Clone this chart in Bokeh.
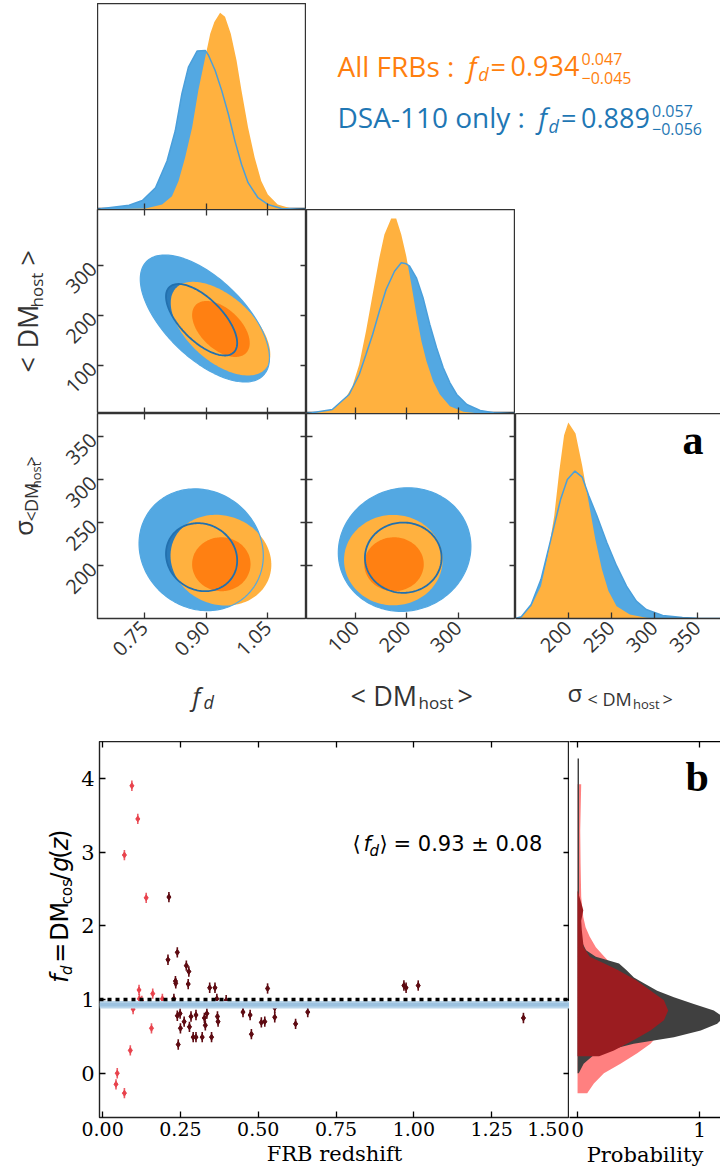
import math
import numpy as np
from bokeh.plotting import figure
from bokeh.layouts import row, column
from bokeh.models import (Range1d, LinearAxis, FixedTicker, Label, Spacer, Span,
                          BoxAnnotation, NumeralTickFormatter)
from bokeh.embed import file_html
from bokeh.resources import INLINE

# ------------------------------------------------------------------ data
FD_RANGE = (0.636, 1.144)
DM_RANGE = (4.0, 412.0)
SIG_RANGE = (139.0, 377.0)
FD_TICKS = [0.75, 0.90, 1.05]
DM_TICKS = [100, 200, 300]
SIG_TICKS = [200, 250, 300, 350]

# 1D marginal of f_d (density, arbitrary units)
FD_BLUE_X = [0.636, 0.6485, 0.7127, 0.745, 0.777, 0.805, 0.825, 0.841, 0.857, 0.878, 0.898, 0.906,
             0.922, 0.938, 0.954, 0.970, 0.986, 1.002, 1.026, 1.050, 1.083, 1.144]
FD_BLUE_Y = [0, 1, 4.3, 9, 21.7, 48.3, 78.3, 115, 141.7, 157.7, 158.3, 153.3,
             138.3, 118.3, 95, 68.3, 45, 26.7, 11.7, 5, 1, 0]
FD_ORNG_X = [0.636, 0.753, 0.793, 0.817, 0.833, 0.849, 0.866, 0.881, 0.898, 0.910, 0.920, 0.934, 0.946,
             0.960, 0.974, 0.986, 1.002, 1.018, 1.034, 1.050, 1.074, 1.107, 1.131, 1.144]
FD_ORNG_Y = [0, 1, 5, 13.3, 28.3, 51.7, 81.7, 118.3, 151.7, 175, 186.7, 195.7, 191.7,
             175, 148.3, 118.3, 81.7, 51.7, 28.3, 15, 5, 1, 0, 0]

# 1D marginal of <DM_host>
DM_BLUE_X = [4, 14.9, 54.3, 87.2, 106.9, 120.1, 133.1, 146.2, 159.4, 175.8, 189, 198.8, 205.3, 218.5,
             231.5, 244.7, 257.9, 270.9, 284, 297.3, 317, 343.1, 369.3, 402.2, 412]
DM_BLUE_Y = [0, 0.7, 4, 19, 39, 59, 79, 102.3, 124, 142.3, 150.7, 149.7, 147.3, 135.7,
             115.7, 89, 65.7, 45.7, 30.7, 19, 9, 3, 0.7, 0, 0]
DM_ORNG_X = [4, 14.9, 54.3, 80.7, 93.7, 106.9, 120.1, 133.1, 146.2, 156.1, 169.3, 179.1, 189, 198.8,
             208.7, 218.5, 228.4, 238.2, 251.2, 264.4, 284, 310.3, 336.6, 412]
DM_ORNG_Y = [0, 0.7, 4, 15.7, 27.3, 49, 82.3, 119, 155.7, 179, 195, 195, 179, 157.3,
             129, 99, 72.3, 52.3, 32.3, 19, 7.3, 1.7, 0.3, 0]

# 1D marginal of sigma_<DM_host>
SIG_BLUE_X = [139, 145.7, 157.2, 168.6, 180.1, 191.5, 199.2, 208, 216.4, 224, 233.5, 245, 256.4,
              267.9, 279.3, 290.8, 309.9, 332.8, 350, 377]
SIG_BLUE_Y = [0, 1.7, 14, 39, 79, 119, 138.3, 146.7, 140.7, 122.3, 102.3, 75.7, 52.3,
              32.3, 17.3, 9, 3, 1, 0.3, 0]
SIG_ORNG_X = [139, 145.7, 157.2, 168.6, 176.3, 184, 189.7, 195.4, 200.3, 208.7, 216.4, 224, 231.6,
              239.3, 246.9, 256.4, 271.7, 290.8, 302.2, 377]
SIG_ORNG_Y = [0, 1.7, 12.3, 32.3, 62.3, 102.3, 145.7, 182.3, 195, 184, 152.3, 115.7, 79,
              49, 27.3, 12.3, 4, 0.7, 0, 0]

# 2D credible contours: [centre x, centre y, half-extent x, half-extent y, correlation]
FD_DM_BLUE_OUT = [0.897, 194.0, 0.157, 127.0, -0.62]
FD_DM_BLUE_IN = [0.889, 191.5, 0.0865, 71.5, -0.65]
FD_DM_ORNG_OUT = [0.935, 173.7, 0.121, 93.7, -0.55]
FD_DM_ORNG_IN = [0.936, 173.0, 0.070, 56.0, -0.50]

FD_SIG_BLUE_OUT = [0.888, 218.8, 0.151, 70.7, -0.10]
FD_SIG_BLUE_IN = [0.889, 210.2, 0.0865, 39.5, -0.10]
FD_SIG_ORNG_OUT = [0.936, 206.7, 0.1225, 52.7, -0.10]
FD_SIG_ORNG_IN = [0.937, 202.0, 0.071, 31.3, 0.0]

DM_SIG_BLUE_OUT = [195.5, 219.0, 129.4, 71.7, 0.05]
DM_SIG_BLUE_IN = [192.9, 209.6, 74.8, 40.8, 0.0]
DM_SIG_ORNG_OUT = [173.5, 206.8, 96.2, 52.5, 0.0]
DM_SIG_ORNG_IN = [174.8, 202.0, 58.1, 31.3, 0.0]

# panel b: per-FRB f_d versus redshift
LOWZ_Z = [0.094, 0.113, 0.070, 0.140, 0.117, 0.118, 0.126, 0.161, 0.192, 0.098, 0.157, 0.089, 0.047, 0.043, 0.070]
LOWZ_F = [3.90, 3.45, 2.96, 2.38, 1.13, 1.01, 0.98, 1.08, 1.01, 0.87, 0.61, 0.31, 0.00, -0.15, -0.27]
MAIN_Z = [0.213, 0.210, 0.240, 0.234, 0.235, 0.229, 0.269, 0.277, 0.275, 0.240, 0.249, 0.262, 0.250, 0.243,
          0.279, 0.284, 0.300, 0.291, 0.300, 0.320, 0.327, 0.330, 0.335, 0.344, 0.350, 0.361, 0.367, 0.369,
          0.371, 0.397, 0.451, 0.474, 0.478, 0.510, 0.521, 0.530, 0.553, 0.553, 0.620, 0.659, 0.968, 0.975,
          1.014, 1.352]
MAIN_F = [2.39, 1.54, 1.64, 1.25, 1.22, 1.01, 1.46, 1.38, 1.21, 0.78, 0.81, 0.70, 0.61, 0.39,
          0.63, 0.77, 0.79, 0.49, 0.49, 0.49, 0.75, 0.65, 0.81, 1.16, 0.49, 1.16, 1.01, 0.77,
          0.70, 0.99, 0.83, 0.79, 0.53, 0.69, 0.70, 1.15, 0.89, 0.76, 0.67, 0.83, 1.19, 1.16,
          1.19, 0.75]
F_ERR = 0.07
Z_ERR = 0.006
MEAN_FD = 0.93
BAND_OUTER = 0.05
BAND_INNER = 0.025
REF_FD = 1.0

# side panel: probability distributions of f_d
SIDE_PINK_F = [-0.27, -0.14, 0.00, 0.13, 0.27, 0.40, 0.58, 0.76, 0.90, 1.03, 1.17, 1.30, 1.44, 1.58,
               1.71, 1.85, 1.98, 2.12, 2.39, 2.84, 3.29, 3.92]
SIDE_PINK_P = [0.079, 0.134, 0.216, 0.352, 0.489, 0.598, 0.694, 0.735, 0.721, 0.639, 0.516, 0.38, 0.30, 0.22,
               0.15, 0.10, 0.066, 0.047, 0.030, 0.025, 0.022, 0.03]
SIDE_GRAY_F = [0.0, 0.13, 0.27, 0.40, 0.49, 0.58, 0.67, 0.76, 0.85, 0.94, 1.03, 1.12, 1.22, 1.30, 1.40,
               1.49, 1.58, 1.67, 1.80, 2.0, 2.3, 4.27]
SIDE_GRAY_P = [0.01, 0.05, 0.15, 0.46, 0.79, 1.01, 1.145, 1.2, 1.117, 0.953, 0.79, 0.653, 0.544, 0.462, 0.40,
               0.34, 0.15, 0.07, 0.03, 0.02, 0.012, 0.012]
SIDE_DARK_F = [0.23, 0.31, 0.45, 0.58, 0.72, 0.85, 0.99, 1.12, 1.26, 1.40, 1.49, 1.58, 1.71, 1.94, 2.07,
               2.21, 2.34, 2.48]
SIDE_DARK_P = [0.177, 0.298, 0.462, 0.598, 0.708, 0.743, 0.708, 0.60, 0.48, 0.33, 0.22, 0.10, 0.05, 0.035,
               0.03, 0.047, 0.025, 0.0]

B_XRANGE = (-0.01, 1.50)
B_YRANGE = (-0.6, 4.5)
B_XTICKS = [0.0, 0.25, 0.5, 0.75, 1.0, 1.25, 1.5]
B_YTICKS = [0, 1, 2, 3, 4]
S_XRANGE = (-0.066, 1.172)
S_XTICKS = [0, 1]

# ------------------------------------------------------------------ style
BLUE_L = "#53A8E2"
BLUE_D = "#2A7BBA"
BLUE_LINE = "#2270AE"
BLUE_HIST_LINE = "#4A9FDB"
ORNG_L = "#FFB13F"
ORNG_D = "#FF8012"
FRAME = "#333333"
TXT = "#333333"
SANS = "Open Sans"
SERIF = "DejaVu Serif"
DJ = "DejaVu Sans"
MID = 0.36  # distance (in em) from the alphabetic baseline to the text middle


def ell(par, n=160):
    cx, cy, sx, sy, rho = par
    t = np.linspace(0, 2 * np.pi, n)
    x = cx + sx * np.cos(t)
    y = cy + sy * (rho * np.cos(t) + math.sqrt(1 - rho ** 2) * np.sin(t))
    return x, y


def base(w, h, xr, yr, left=0, right=0, top=0, bottom=0, outline=True):
    p = figure(width=w, height=h, x_range=Range1d(*xr), y_range=Range1d(*yr),
               output_backend="svg", toolbar_location=None,
               x_axis_location=None, y_axis_location=None,
               min_border_left=left, min_border_right=right,
               min_border_top=top, min_border_bottom=bottom)
    p.grid.visible = False
    p.outline_line_color = FRAME if outline else None
    p.outline_line_width = 1.4
    p.background_fill_color = "white"
    p.border_fill_color = "white"
    return p


def axis(p, side, ticks, labels=False, font=SANS, size="20px", color=TXT, orient=None,
         fmt=None, tin=6, tout=0, line=False, label=None, label_size="22px", standoff=6,
         label_standoff=4):
    ax = LinearAxis(ticker=FixedTicker(ticks=list(ticks)))
    ax.minor_tick_line_color = None
    ax.major_tick_in = tin
    ax.major_tick_out = tout
    ax.major_tick_line_color = color
    ax.major_tick_line_width = 1.3
    ax.axis_line_color = color if line else None
    ax.axis_line_width = 1.4
    if labels:
        ax.major_label_text_font = font
        ax.major_label_text_font_size = size
        ax.major_label_text_color = color
        ax.major_label_standoff = standoff
        if orient is not None:
            ax.major_label_orientation = orient
        if fmt:
            ax.formatter = NumeralTickFormatter(format=fmt)
    else:
        ax.major_label_text_font_size = "0px"
        ax.major_label_text_color = None
        ax.major_label_standoff = 0
    if label:
        ax.axis_label = label
        ax.axis_label_text_font = font
        ax.axis_label_text_font_size = label_size
        ax.axis_label_text_font_style = "normal"
        ax.axis_label_text_color = color
        ax.axis_label_standoff = label_standoff
    p.add_layout(ax, side)
    return ax


def text_fig(w, h):
    p = figure(width=w, height=h, x_range=Range1d(0, w), y_range=Range1d(h, 0),
               output_backend="svg", toolbar_location=None,
               x_axis_location=None, y_axis_location=None, min_border=0)
    p.outline_line_color = None
    p.grid.visible = False
    p.background_fill_color = "white"
    p.border_fill_color = "white"
    return p


def put(p, x, y, s, size, color=TXT, font=SANS, style="normal", angle=0.0):
    """(x, y) = start of the text on its alphabetic baseline, in pixel space of a text figure."""
    if angle == 0:
        y = y - MID * size
    else:
        x = x - MID * size
    p.add_layout(Label(x=x, y=y, text=s, text_font=font, text_font_size=f"{size}px",
                       text_color=color, text_font_style=style, angle=angle,
                       text_align="left", text_baseline="middle"))


def dlabel(p, x, y, s, size, font, color="black", style="normal", dx=0, dy=0):
    """Text on a data anchor; dx/dy in screen pixels, baseline at the anchor."""
    p.add_layout(Label(x=x, y=y, x_offset=dx, y_offset=dy + MID * size, text=s, text_font=font,
                       text_font_size=f"{size}px", text_color=color, text_font_style=style,
                       text_align="left", text_baseline="middle"))


def contours(p, bo, bi, oo, oi):
    x, y = ell(bo); p.patch(x, y, fill_color=BLUE_L, line_color=None)
    x, y = ell(bi); p.patch(x, y, fill_color=BLUE_D, line_color=None)
    x, y = ell(oo); p.patch(x, y, fill_color=ORNG_L, line_color=None)
    x, y = ell(oi); p.patch(x, y, fill_color=ORNG_D, line_color=None)
    x, y = ell(bi); p.line(x, y, line_color=BLUE_LINE, line_width=1.8)
    x, y = ell(bo); p.line(x, y, line_color=BLUE_L, line_width=1.2)


def marginal(p, bx, by, ox, oy):
    p.varea(x=bx, y1=0, y2=by, fill_color=BLUE_L)
    p.varea(x=ox, y1=0, y2=oy, fill_color=ORNG_L)
    p.line(bx, by, line_color=BLUE_HIST_LINE, line_width=1.5)


ROT = math.pi / 4
A90 = math.pi / 2

# ------------------------------------------------------------------ row 1  (y 3..209)
f11 = base(209, 206, FD_RANGE, (0, 205))
marginal(f11, FD_BLUE_X, FD_BLUE_Y, FD_ORNG_X, FD_ORNG_Y)
axis(f11, "below", FD_TICKS)

tf_top = text_fig(414, 206)
OR_T = "#FF7F0E"
BL_T = "#1F77B4"
put(tf_top, 31, 72.5, "All FRBs :", 28, OR_T)
put(tf_top, 161.6, 72.5, "f", 27, OR_T, style="italic")
put(tf_top, 171.7, 77, "d", 18, OR_T, style="italic")
put(tf_top, 184, 72.5, "=", 27, OR_T)
put(tf_top, 204, 72.5, "0.934", 27, OR_T)
put(tf_top, 275, 61.5, "0.047", 16, OR_T)
put(tf_top, 275, 80, "\u22120.045", 16, OR_T)
put(tf_top, 31, 124, "DSA-110 only :", 28, BL_T)
put(tf_top, 232, 124, "f", 27, BL_T, style="italic")
put(tf_top, 242, 128.5, "d", 18, BL_T, style="italic")
put(tf_top, 254.5, 124, "=", 27, BL_T)
put(tf_top, 274.5, 124, "0.889", 27, BL_T)
put(tf_top, 345.5, 113, "0.057", 16, BL_T)
put(tf_top, 345.5, 131.5, "\u22120.056", 16, BL_T)

row1 = row(Spacer(width=97, height=206), f11, tf_top, spacing=0)

# ------------------------------------------------------------------ row 2  (y 209..413)
LW = 49
tf_l2 = text_fig(LW, 204)
put(tf_l2, 37, 163, "<", 27, angle=A90)
put(tf_l2, 37, 139, "DM", 27, angle=A90)
put(tf_l2, 42, 98, "host", 17, angle=A90)
put(tf_l2, 37, 56, ">", 27, angle=A90)

f21 = base(97 - LW + 209, 204, FD_RANGE, DM_RANGE, left=97 - LW)
contours(f21, FD_DM_BLUE_OUT, FD_DM_BLUE_IN, FD_DM_ORNG_OUT, FD_DM_ORNG_IN)
axis(f21, "left", DM_TICKS, labels=True, orient=ROT, standoff=4)
axis(f21, "right", DM_TICKS)
axis(f21, "above", FD_TICKS)
axis(f21, "below", FD_TICKS)

f22 = base(209, 204, DM_RANGE, (0, 204))
marginal(f22, DM_BLUE_X, DM_BLUE_Y, DM_ORNG_X, DM_ORNG_Y)
axis(f22, "below", DM_TICKS)

row2 = row(tf_l2, f21, f22, Spacer(width=205, height=204), spacing=0)

# ------------------------------------------------------------------ row 3  (y 413..618 + labels)
tf_l3 = text_fig(LW, 263)
put(tf_l3, 31.7, 157, "\u03c3", 26, angle=A90)
put(tf_l3, 36.7, 138.7, "<", 18, angle=A90)
put(tf_l3, 36.7, 126.5, "DM", 18, angle=A90)
put(tf_l3, 40, 96, "host", 13, angle=A90)
put(tf_l3, 36.7, 68, ">", 18, angle=A90)

f31 = base(97 - LW + 209, 263, FD_RANGE, SIG_RANGE, left=97 - LW, bottom=58)
contours(f31, FD_SIG_BLUE_OUT, FD_SIG_BLUE_IN, FD_SIG_ORNG_OUT, FD_SIG_ORNG_IN)
axis(f31, "left", SIG_TICKS, labels=True, orient=ROT, standoff=4)
axis(f31, "below", FD_TICKS, labels=True, orient=ROT, fmt="0.00")
axis(f31, "right", SIG_TICKS)
axis(f31, "above", FD_TICKS)

f32 = base(209, 263, DM_RANGE, SIG_RANGE, bottom=58)
contours(f32, DM_SIG_BLUE_OUT, DM_SIG_BLUE_IN, DM_SIG_ORNG_OUT, DM_SIG_ORNG_IN)
axis(f32, "below", DM_TICKS, labels=True, orient=ROT)
axis(f32, "right", SIG_TICKS)
axis(f32, "left", SIG_TICKS)
axis(f32, "above", DM_TICKS)

f33 = base(205, 263, SIG_RANGE, (0, 204), bottom=58, outline=False)
marginal(f33, SIG_BLUE_X, SIG_BLUE_Y, SIG_ORNG_X, SIG_ORNG_Y)
axis(f33, "below", SIG_TICKS, labels=True, orient=ROT, line=True)
axis(f33, "above", [], tin=0, line=True)
axis(f33, "left", [], tin=0, line=True)
dlabel(f33, 332.8, 162.3, "a", 42, "Liberation Serif", style="bold")

row3 = row(tf_l3, f31, f32, f33, spacing=0)

# ------------------------------------------------------------------ row 4 (axis labels, y 676..741)
tf_bot = text_fig(720, 65)
put(tf_bot, 192, 28, "f", 25, style="italic")
put(tf_bot, 203, 32, "d", 18, style="italic")
put(tf_bot, 350, 29, "<", 27)
put(tf_bot, 372.7, 29, "DM", 27)
put(tf_bot, 418, 32, "host", 17)
put(tf_bot, 457, 29, ">", 27)
put(tf_bot, 567, 25, "\u03c3", 24)
put(tf_bot, 587, 29, "<", 18)
put(tf_bot, 602, 29, "DM", 18)
put(tf_bot, 632.5, 32, "host", 13)
put(tf_bot, 662, 29, ">", 18)

# ------------------------------------------------------------------ row 5 (panel b, y 741..1171)
BW = 78
tf_lb = text_fig(BW, 430)
put(tf_lb, 68, 276, "f", 24, "black", DJ, "italic", A90)
put(tf_lb, 71.5, 267, "d", 15, "black", DJ, "italic", A90)
put(tf_lb, 68, 253, "=", 24, "black", DJ, angle=A90)
put(tf_lb, 68, 228, "DM", 24, "black", DJ, angle=A90)
put(tf_lb, 71.5, 186, "cos", 15, "black", DJ, angle=A90)
put(tf_lb, 68, 159, "/", 24, "black", DJ, angle=A90)
put(tf_lb, 68, 149, "g", 24, "black", DJ, "italic", A90)
put(tf_lb, 68, 134, "(", 24, "black", DJ, angle=A90)
put(tf_lb, 68, 124.5, "z", 24, "black", DJ, "italic", A90)
put(tf_lb, 68, 111.5, ")", 24, "black", DJ, angle=A90)

fb = base(97 - BW + 472, 430, B_XRANGE, B_YRANGE, left=97 - BW, bottom=54)
fb.outline_line_color = "#222222"
fb.add_layout(BoxAnnotation(bottom=MEAN_FD - BAND_OUTER, top=MEAN_FD + BAND_OUTER,
                            fill_color="#B9D5EA", fill_alpha=1.0, line_color=None))
fb.add_layout(BoxAnnotation(bottom=MEAN_FD - BAND_INNER, top=MEAN_FD + BAND_INNER,
                            fill_color="#9CC2E0", fill_alpha=1.0, line_color=None))
fb.add_layout(Span(location=REF_FD, dimension="width", line_color="black",
                   line_width=3.5, line_dash="4 4"))
lz = np.array(LOWZ_Z); lf = np.array(LOWZ_F)
mz = np.array(MAIN_Z); mf = np.array(MAIN_F)
LR = "#E8404A"
DR = "#5E0B12"
fb.segment(x0=lz, y0=lf - F_ERR, x1=lz, y1=lf + F_ERR, line_color=LR, line_width=1.6, line_alpha=0.85)
fb.segment(x0=lz - Z_ERR, y0=lf, x1=lz + Z_ERR, y1=lf, line_color=LR, line_width=1.6, line_alpha=0.85)
fb.scatter(lz, lf, marker="diamond", size=6, fill_color=LR, line_color=LR, alpha=0.9)
fb.segment(x0=mz, y0=mf - F_ERR, x1=mz, y1=mf + F_ERR, line_color=DR, line_width=1.6)
fb.segment(x0=mz - Z_ERR, y0=mf, x1=mz + Z_ERR, y1=mf, line_color=DR, line_width=1.6)
fb.scatter(mz, mf, marker="diamond", size=6, fill_color=DR, line_color=DR)
axis(fb, "left", B_YTICKS, labels=True, font=SERIF, size="21px", color="black", standoff=5)
axis(fb, "below", B_XTICKS, labels=True, font=SERIF, size="19px", color="black", fmt="0.00",
     label="FRB redshift", label_size="21px", standoff=4, label_standoff=3)
axis(fb, "above", B_XTICKS, color="black")
axis(fb, "right", B_YTICKS, color="black")
dlabel(fb, 0.803, 3.01, "\u27e8", 21, DJ)
dlabel(fb, 0.803, 3.01, "f", 21, DJ, style="italic", dx=11)
dlabel(fb, 0.803, 3.01, "d", 15, DJ, style="italic", dx=17, dy=-5)
dlabel(fb, 0.803, 3.01, "\u27e9", 21, DJ, dx=27)
dlabel(fb, 0.803, 3.01, "= 0.93 \u00b1 0.08", 21, DJ, dx=41)

fs = base(720 - 97 - 472, 430, S_XRANGE, B_YRANGE, bottom=54, outline=False)
fs.harea(y=SIDE_PINK_F, x1=0, x2=SIDE_PINK_P, fill_color="#FF8080")
fs.harea(y=SIDE_GRAY_F, x1=0, x2=SIDE_GRAY_P, fill_color="#404040")
fs.harea(y=SIDE_DARK_F, x1=0, x2=SIDE_DARK_P, fill_color="#9B1C20")
axis(fs, "below", S_XTICKS, labels=True, font=SERIF, size="20px", color="black", line=True,
     label="Probability", label_size="21px", standoff=4, label_standoff=3)
axis(fs, "above", S_XTICKS, color="black", line=True)
dlabel(fs, 0.885, 3.81, "b", 42, "Liberation Serif", style="bold")

row5 = row(tf_lb, fb, fs, spacing=0)

layout = column(Spacer(width=720, height=3), row1, row2, row3, tf_bot, row5, spacing=0)

with open("out.html", "w") as fh:
    fh.write(file_html(layout, INLINE, title="f_d constraints"))
